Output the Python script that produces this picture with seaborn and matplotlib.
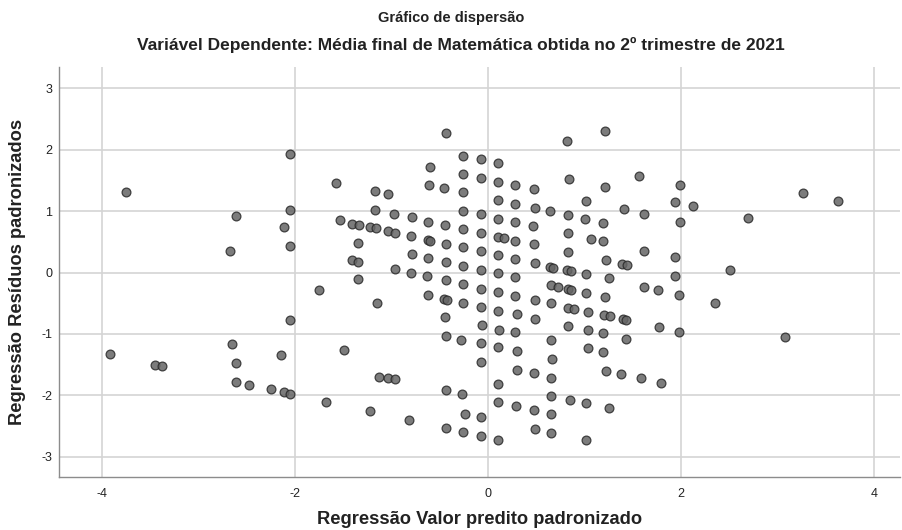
import pandas as pd
import numpy as np
import seaborn as sns
import matplotlib.pyplot as plt

"""Data - standardized predicted value vs standardized residual"""

pred_x = [-3.76, -2.06, -2.06, -2.62, -2.12, -2.06, -2.68,
          -2.06, -3.92, -3.45, -3.38, -2.66, -2.62, -2.15, -2.62, -2.48, -2.25, -2.12, -2.06,
          -0.44, -1.58, -0.26, -0.08, 0.10, -0.60, -0.26, -0.08, 0.10, -0.61, -0.46, -1.17, -1.04, -0.26,
          0.10, -1.17, -0.26, -0.08, 0.10, -0.98, -0.79, -0.62, -0.45, -1.54, -1.41, -1.34, -1.23, -1.16,
          -1.04, -0.97, -0.26, -0.08, 0.10, 0.16, -0.80, -0.63, -0.60, -0.44, -1.35, -0.26, -0.08, 0.10,
          -0.79, -0.62, -0.44, -1.41, -1.35, -0.26, -0.08, 0.10, -0.97, -0.80, -0.64, -1.35, -0.44,
          -0.26, -0.08, 0.10, -1.75, -1.15, -0.62, -0.46, -0.43, -0.26, -0.08, 0.10, -0.45, -0.06, 0.11,
          -0.44, -0.28, -0.08, 0.10, -1.50, -0.08, -1.13, -1.04, -0.97, 0.10, -0.44, -0.27, 0.10, -1.68,
          -1.23, -0.24, -0.08, -0.82, -0.44, -0.26, -0.08, 0.10,
          0.82, 1.21, 0.28, 0.47, 0.84, 1.21, 1.56, 1.99, 0.28, 0.48, 0.64, 0.83, 1.01, 1.00, 1.19, 1.41,
          1.61, 1.94, 1.99, 0.28, 0.46, 0.83, 1.07, 1.19, 0.28, 0.47, 0.28, 0.48, 0.64, 0.67, 0.83, 0.82,
          0.86, 1.22, 1.39, 1.44, 1.61, 1.94, 0.28, 1.01, 1.25, 1.94,
          0.65, 0.72, 0.83, 0.86, 1.01, 1.21, 1.61, 1.76, 1.98, 0.28, 0.48, 0.65, 0.83, 0.89, 1.03, 1.20,
          1.26, 1.40, 1.43, 0.30, 0.48, 0.83, 1.03, 1.19, 1.77, 1.98, 0.28, 0.65, 1.43, 0.30, 1.03, 1.19,
          0.66, 0.30, 0.47, 0.65, 1.22, 1.38, 1.58, 1.79, 0.65, 0.85, 1.01, 1.25, 0.29, 0.47, 0.65, 0.48,
          0.65, 1.01,
          2.12, 2.69, 3.26, 3.63, 2.51, 2.35, 3.08]

resid_y = [1.31, 1.93, 1.02, 0.92, 0.75, 0.43, 0.35,
           -0.77, -1.33, -1.50, -1.52, -1.16, -1.48, -1.34, -1.78, -1.83, -1.90, -1.95, -1.97,
           2.27, 1.46, 1.90, 1.85, 1.78, 1.72, 1.60, 1.54, 1.48, 1.43, 1.38, 1.33, 1.28, 1.31,
           1.18, 1.02, 1.01, 0.95, 0.88, 0.96, 0.90, 0.83, 0.78, 0.85, 0.80, 0.78, 0.75, 0.72,
           0.68, 0.65, 0.71, 0.64, 0.58, 0.57, 0.60, 0.53, 0.52, 0.47, 0.49, 0.41, 0.35, 0.28,
           0.30, 0.23, 0.17, 0.20, 0.18, 0.11, 0.05, -0.01, 0.06, 0.00, -0.06, -0.10, -0.12,
           -0.19, -0.26, -0.32, -0.28, -0.49, -0.37, -0.43, -0.44, -0.49, -0.56, -0.62, -0.73, -0.86, -0.93,
           -1.03, -1.09, -1.15, -1.22, -1.26, -1.45, -1.70, -1.72, -1.74, -1.82, -1.92, -1.98, -2.11, -2.10,
           -2.26, -2.30, -2.35, -2.40, -2.53, -2.59, -2.66, -2.72,
           2.14, 2.30, 1.42, 1.36, 1.53, 1.40, 1.58, 1.43, 1.12, 1.06, 1.00, 0.94, 1.17, 0.87, 0.81, 1.03,
           0.96, 1.15, 0.83, 0.82, 0.76, 0.64, 0.55, 0.51, 0.52, 0.46, 0.22, 0.16, 0.09, 0.08, 0.34, 0.04,
           0.03, 0.20, 0.14, 0.13, 0.36, 0.25, -0.07, -0.03, -0.09, -0.05,
           -0.20, -0.23, -0.27, -0.28, -0.33, -0.39, -0.23, -0.29, -0.37, -0.38, -0.45, -0.50, -0.57, -0.59, -0.64, -0.69,
           -0.71, -0.76, -0.77, -0.68, -0.75, -0.87, -0.94, -0.99, -0.89, -0.96, -0.97, -1.10, -1.08, -1.28, -1.23, -1.29,
           -1.41, -1.58, -1.64, -1.71, -1.60, -1.66, -1.72, -1.80, -2.01, -2.07, -2.13, -2.21, -2.18, -2.24, -2.30, -2.54,
           -2.61, -2.73,
           1.08, 0.89, 1.29, 1.16, 0.05, -0.49, -1.05]

x_ticks = [-4, -2, 0, 2, 4]
y_ticks = [-3, -2, -1, 0, 1, 2, 3]

df = pd.DataFrame({'pred': pred_x, 'resid': resid_y})

"""Plot"""
sns.set_style('white')
plt.rcParams['font.family'] = ['Liberation Sans', 'DejaVu Sans']
plt.rcParams['axes.unicode_minus'] = False

fig = plt.figure(figsize=(9.02, 5.30), dpi=100)
ax = fig.add_axes([0.0654, 0.10, 0.9326, 0.7736])

sns.scatterplot(data=df, x='pred', y='resid', ax=ax, s=40,
                color='#656565', edgecolor='#2a2a2a', linewidth=0.9,
                alpha=0.85, zorder=3)

ax.set_xlim(-4.45, 4.27)
ax.set_ylim(-3.33, 3.35)
ax.set_xticks(x_ticks)
ax.set_yticks(y_ticks)
ax.grid(True, color='#d4d4d4', linewidth=1.2, zorder=0)
ax.set_axisbelow(True)

for side in ['top', 'right']:
    ax.spines[side].set_visible(False)
for side in ['left', 'bottom']:
    ax.spines[side].set_color('#8c8c8c')
    ax.spines[side].set_linewidth(1.0)

ax.tick_params(axis='both', length=0, labelsize=9, colors='#222222')
ax.tick_params(axis='x', pad=8)
ax.tick_params(axis='y', pad=5)

ax.set_xlabel('Regressão Valor predito padronizado', fontsize=13.2,
              fontweight='bold', color='#222222', labelpad=8)
ax.set_ylabel('Regressão Resíduos padronizados', fontsize=13.2,
              fontweight='bold', color='#222222', labelpad=11)

fig.text(0.5, 0.966, 'Gráfico de dispersão', ha='center', va='center',
         fontsize=10.5, fontweight='bold', color='#222222')
fig.text(0.511, 0.915, 'Variável Dependente: Média final de Matemática obtida no 2º trimestre de 2021',
         ha='center', va='center', fontsize=12.5, fontweight='bold', color='#222222')

plt.savefig('out.png', dpi=100)
